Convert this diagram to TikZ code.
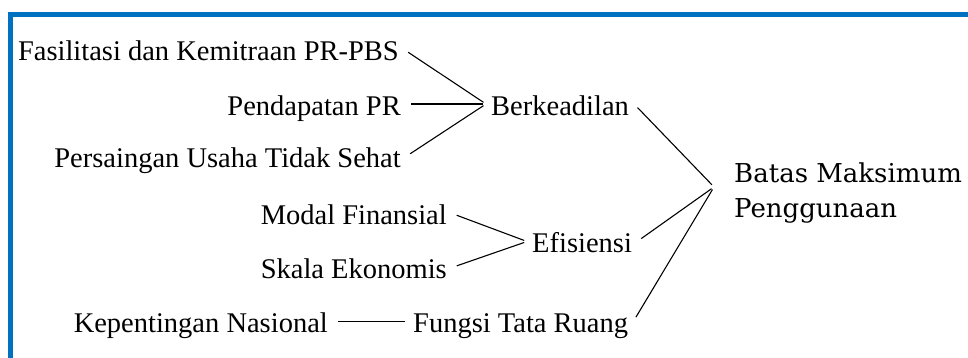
\documentclass[tikz,border=0pt]{standalone}
\usepackage{fontspec}
\setmainfont{Liberation Serif}
\newfontfamily\batasfont{DejaVu Serif}
\definecolor{frameBlue}{RGB}{0,112,192}
\begin{document}
\begin{tikzpicture}[x=1pt,y=-1pt]
        \tikzstyle{factorNode}=[inner xsep=5pt,inner ysep=0pt,text height=27pt,text depth=4.3pt,font=\fontsize{28.5}{34}\selectfont]
        \tikzstyle{influence}=[line width=1.1pt,shorten <=5pt,shorten >=3pt]
    \useasboundingbox (0,0) rectangle (968,358);
    \draw[frameBlue,line width=4.5pt] (968,14.7) -- (10.5,14.7) -- (10.5,358);

    \node[factorNode,anchor=east] (fasilitasi) at (404,49.5) {Fasilitasi dan Kemitraan PR-PBS};
    \node[factorNode,anchor=east] (pendapatan) at (406,104) {Pendapatan PR};
    \node[factorNode,anchor=east] (persaingan) at (406,156.5) {Persaingan Usaha Tidak Sehat};
    \node[factorNode,anchor=east] (modal) at (452,213.5) {Modal Finansial};
    \node[factorNode,anchor=east] (skala) at (452,267.5) {Skala Ekonomis};
    \node[factorNode,anchor=east] (kepentingan) at (333,321.5) {Kepentingan Nasional};

    \node[factorNode,anchor=west] (berkeadilan) at (486,104) {Berkeadilan};
    \node[factorNode,anchor=west] (efisiensi) at (527,241.5) {Efisiensi};
    \node[factorNode,anchor=west] (fungsi) at (408,321.5) {Fungsi Tata Ruang};

    \node[anchor=north west,align=left,inner xsep=20pt,inner ysep=0pt,font=\batasfont\fontsize{26}{35}\selectfont] (batas) at (714,162.2) {Batas Maksimum\\Penggunaan};

    \draw[influence] (fasilitasi.east) -- (berkeadilan.west);
    \draw[influence] (pendapatan.east) -- (berkeadilan.west);
    \draw[influence] (persaingan.east) -- (berkeadilan.west);
    \draw[influence] (modal.east) -- (efisiensi.west);
    \draw[influence] (skala.east) -- (efisiensi.west);
    \draw[influence] (kepentingan.east) -- (fungsi.west);

    % all three meet left of the second text line
    \draw[influence] (berkeadilan.east) -- ([yshift=5.7pt]batas.west);
    \draw[influence] (efisiensi.east) -- ([yshift=5.7pt]batas.west);
    \draw[influence] (fungsi.east) -- ([yshift=5.7pt]batas.west);
    \end{tikzpicture}
\end{document}
